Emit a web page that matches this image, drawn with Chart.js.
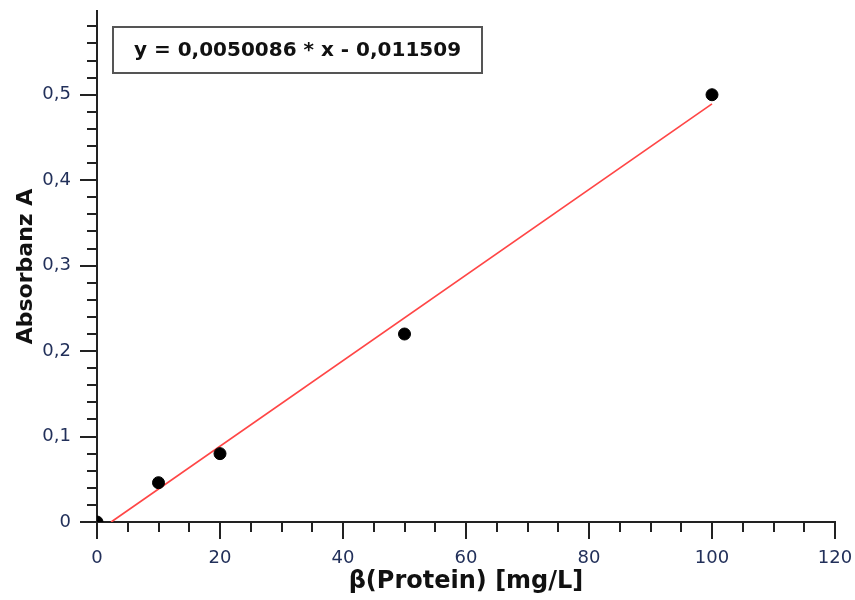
<!DOCTYPE html>
<html><head><meta charset="utf-8">
<script src="https://cdn.jsdelivr.net/npm/chart.js@4/dist/chart.umd.min.js"></script>
<style>html,body{margin:0;padding:0;background:#fff}</style>
</head><body>
<canvas id="c" width="855" height="600"></canvas>
<script>
// data
const concX = [0, 10, 20, 50, 100];
const absY = [0.0, 0.046, 0.08, 0.22, 0.50];
const fitX = [2.3, 100];
const fitY = [0.0, 0.4893];
const xTicksMajor = [0, 20, 40, 60, 80, 100, 120];
const equationText = 'y = 0,0050086 * x - 0,011509';
const xTitle = 'β(Protein) [mg/L]';
const yTitle = 'Absorbanz A';

const FONT = '"DejaVu Sans", Verdana, sans-serif';
const LABEL = '#22305a';
const AXIS = '#222';

const minorTicks = {
  id: 'minorTicks',
  afterDraw(chart) {
    const ctx = chart.ctx, x = chart.scales.x, y = chart.scales.y;
    ctx.save();
    ctx.strokeStyle = AXIS; ctx.lineWidth = 2;
    ctx.beginPath();
    for (let v = 0; v <= 120.001; v += 5) {
      const px = Math.round(x.getPixelForValue(v));
      const len = (Math.round(v) % 20 === 0) ? 17 : 10;
      ctx.moveTo(px, x.top); ctx.lineTo(px, x.top + len);
    }
    for (let v = 0; v <= 0.5801; v += 0.02) {
      const py = Math.round(y.getPixelForValue(v));
      const len = (Math.round(v * 50) % 5 === 0) ? 17 : 10;
      ctx.moveTo(y.right, py); ctx.lineTo(y.right - len, py);
    }
    ctx.stroke();
    // equation box
    const bx = 113, by = 27, bw = 369, bh = 46;
    ctx.lineWidth = 2; ctx.strokeStyle = '#555';
    ctx.strokeRect(bx, by, bw, bh);
    ctx.fillStyle = '#111';
    ctx.font = 'bold 20px ' + FONT;
    ctx.textAlign = 'center'; ctx.textBaseline = 'middle';
    ctx.fillText(equationText, bx + bw / 2, by + bh / 2 + 1);
    ctx.restore();
  }
};

function noPad(s) { s.paddingTop = 0; s.paddingBottom = 0; s.paddingLeft = 0; s.paddingRight = 0; }

new Chart(document.getElementById('c'), {
  type: 'scatter',
  data: {
    datasets: [
      {
        type: 'scatter',
        data: concX.map((v, i) => ({x: v, y: absY[i]})),
        backgroundColor: '#000', borderColor: '#000',
        pointRadius: 6, pointHoverRadius: 6, order: 1
      },
      {
        type: 'line',
        data: fitX.map((v, i) => ({x: v, y: fitY[i]})),
        borderColor: '#ff4646', borderWidth: 1.7,
        pointRadius: 0, fill: false, order: 2
      }
    ]
  },
  plugins: [minorTicks],
  options: {
    responsive: false, animation: false,
    layout: {padding: {top: 11, right: 20, left: 0, bottom: 0}},
    plugins: {legend: {display: false}, tooltip: {enabled: false}},
    scales: {
      x: {
        type: 'linear', min: 0, max: 120,
        afterFit(s) { s.height = 78; noPad(s); },
        afterBuildTicks(s) { s.ticks = xTicksMajor.map(v => ({value: v})); },
        grid: {display: false, drawTicks: false},
        border: {display: true, color: AXIS, width: 2},
        ticks: {color: LABEL, font: {family: FONT, size: 18}, padding: 26, maxRotation: 0},
        title: {display: true, text: xTitle, color: '#111',
          font: {family: FONT, size: 24, weight: 'bold'}, padding: {top: 0, bottom: 4}}
      },
      y: {
        type: 'linear', min: 0, max: 0.598,
        afterFit(s) { s.width = 97; noPad(s); },
        grid: {display: false, drawTicks: false},
        border: {display: true, color: AXIS, width: 2},
        ticks: {stepSize: 0.1, includeBounds: false, color: LABEL,
          font: {family: FONT, size: 18}, padding: 26,
          callback: v => (Math.round(v * 10) / 10).toString().replace('.', ',')},
        title: {display: true, text: yTitle, color: '#111',
          font: {family: FONT, size: 22, weight: 'bold'}, padding: {top: 13, bottom: 4}}
      }
    }
  }
});
</script>
</body></html>
